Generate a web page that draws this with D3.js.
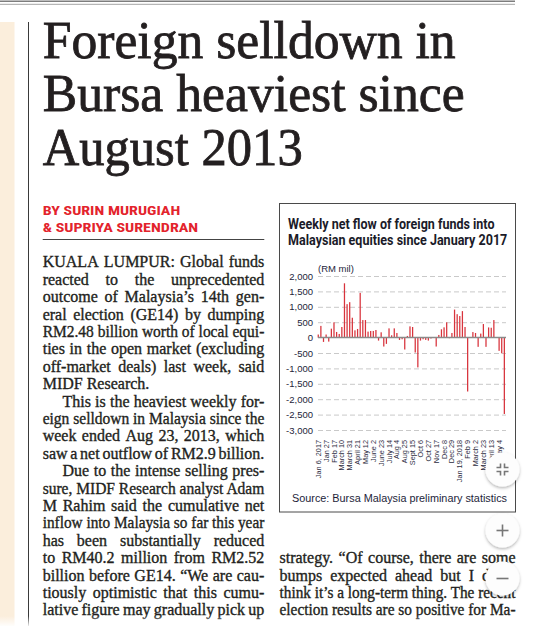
<!DOCTYPE html>
<html>
<head>
<meta charset="utf-8">
<script src="https://cdn.jsdelivr.net/npm/d3@7"></script>
<style>
  html, body { margin: 0; padding: 0; background: #fff; overflow: hidden; }
  svg { display: block; }
  .body-text { font-family: "Liberation Serif", "Times New Roman", serif; font-size: 16px; fill: #231f20; stroke: #231f20; stroke-width: 0.35; }
</style>
</head>
<body>
<svg id="page" width="536" height="626"></svg>
<script>
// ---- chart data ----
const firstWeek = new Date(2017, 0, 6);   // week ended Jan 6, 2017
const netFlow = [
  100, 380, -140, 100, -130, 290, 495, 183, 118, 344,
  1763, 1086, 1150, 645, 236, 280, 1452, 570, 570, 194,
  215, 215, 247, -97, 172, -290, -204, 300, 75, 300,
  150, -75, -54, -387, 54, 365, 344, -484, -968, -97,
  -54, -75, -97, -30, 10, -290, 86, 270, 333, 495,
  -20, 150, 910, 760, 700, 860, 344, -1750, 10, 180,
  150, -300, 130, 440, -300, 330, 320, 570, 10, -430,
  -510, -2480
];
const tickLabels = [
  "Jan 6, 2017", "Jan 27", "Feb 17", "March 10", "March 31", "April 21",
  "May 12", "June 2", "June 23", "July 14", "Aug 4", "Aug 25",
  "Sept 15", "Oct 6", "Oct 27", "Nov 17", "Dec 8", "Dec 29",
  "Jan 19, 2018", "Feb 9", "March 2", "March 23", "April 13", "May 4"
];
const yTicks = [2000, 1500, 1000, 500, 0, -500, -1000, -1500, -2000, -2500, -3000];

// ---- article text ----
const headline = ["Foreign selldown in", "Bursa heaviest since", "August 2013"];
const byline = ["BY SURIN MURUGIAH", "& SUPRIYA SURENDRAN"];
const chartTitle = ["Weekly net flow of foreign funds into", "Malaysian equities since January 2017"];
// [line, justified, indented]
const leftCol = [
  ["KUALA LUMPUR: Global funds", 1, 0],
  ["reacted to the unprecedented", 1, 0],
  ["outcome of Malaysia’s 14th gen-", 1, 0],
  ["eral election (GE14) by dumping", 1, 0],
  ["RM2.48 billion worth of local equi-", 1, 0],
  ["ties in the open market (excluding", 1, 0],
  ["off-market deals) last week, said", 1, 0],
  ["MIDF Research.", 0, 0],
  ["This is the heaviest weekly for-", 1, 1],
  ["eign selldown in Malaysia since the", 1, 0],
  ["week ended Aug 23, 2013, which", 1, 0],
  ["saw a net outflow of RM2.9 billion.", 1, 0],
  ["Due to the intense selling pres-", 1, 1],
  ["sure, MIDF Research analyst Adam", 1, 0],
  ["M Rahim said the cumulative net", 1, 0],
  ["inflow into Malaysia so far this year", 1, 0],
  ["has been substantially reduced", 1, 0],
  ["to RM40.2 million from RM2.52", 1, 0],
  ["billion before GE14. “We are cau-", 1, 0],
  ["tiously optimistic that this cumu-", 1, 0],
  ["lative figure may gradually pick up", 1, 0]
];
const rightCol = [
  "strategy. “Of course, there are some",
  "bumps expected ahead but I don’t",
  "think it’s a long-term thing. The recent",
  "election results are so positive for Ma-"
];

const svg = d3.select("#page");

// ---- page furniture ----
svg.append("rect").attr("x", 0).attr("y", 22).attr("width", 14.5).attr("height", 604).attr("fill", "#fbeedc");
svg.append("line").attr("x1", 0).attr("x2", 515).attr("y1", 1.2).attr("y2", 1.2).attr("stroke", "#7d7d7d").attr("stroke-width", 1.6);
svg.append("line").attr("x1", 0).attr("x2", 515).attr("y1", 4.3).attr("y2", 4.3).attr("stroke", "#9a9a9a").attr("stroke-width", 0.9);
svg.append("line").attr("x1", 28.5).attr("x2", 28.5).attr("y1", 22).attr("y2", 626).attr("stroke", "#3a3a3a").attr("stroke-width", 1);

// headline
const hlWidths = [413, 422, 260];
const hlBase = [58, 111.3, 164.5];
headline.forEach((t, i) => {
  svg.append("text")
    .attr("x", 42.7).attr("y", hlBase[i])
    .attr("textLength", hlWidths[i]).attr("lengthAdjust", "spacingAndGlyphs")
    .style("font-family", "'Liberation Serif', 'Times New Roman', serif")
    .style("font-size", "52px")
    .style("fill", "#231f20").style("stroke", "#231f20").style("stroke-width", 0.8)
    .text(t);
});

// byline
const byWidths = [137.5, 155.5];
byline.forEach((t, i) => {
  svg.append("text")
    .attr("x", 42.7).attr("y", 215 + i * 16.7)
    .attr("textLength", byWidths[i]).attr("lengthAdjust", "spacingAndGlyphs")
    .style("font-family", "'Liberation Sans Narrow', 'Roboto Condensed', Roboto, sans-serif")
    .style("font-weight", "bold").style("font-size", "13.5px")
    .style("fill", "#e3232c")
    .text(t);
});
svg.append("line").attr("x1", 42.7).attr("x2", 264.3).attr("y1", 239.5).attr("y2", 239.5).attr("stroke", "#444").attr("stroke-width", 1);

// justified body text
function setLine(g, str, x0, y, width, justify) {
  const t = g.append("text").attr("class", "body-text").attr("x", x0).attr("y", y).text(str);
  const natural = t.node().getComputedTextLength();
  const words = str.split(" ");
  if (!justify) {
    if (natural > width) t.attr("textLength", width).attr("lengthAdjust", "spacingAndGlyphs");
    return;
  }
  const probe = g.append("text").attr("class", "body-text");
  const ws = words.map(w => { probe.text(w); return probe.node().getComputedTextLength(); });
  probe.remove();
  const gap = (width - d3.sum(ws)) / (words.length - 1);
  if (gap < 2.6) {
    t.attr("textLength", width).attr("lengthAdjust", "spacingAndGlyphs");
    return;
  }
  t.remove();
  let x = x0;
  words.forEach((w, i) => {
    g.append("text").attr("class", "body-text").attr("x", x).attr("y", y).text(w);
    x += ws[i] + gap;
  });
}

const textG = svg.append("g");
const lineH = 17.4, firstBase = 267.3;
leftCol.forEach(([t, j, ind], i) => {
  const x0 = ind ? 62.5 : 42.7;
  setLine(textG, t, x0, firstBase + i * lineH, 264.3 - x0, j);
});
rightCol.forEach((t, i) => {
  setLine(textG, t, 279.5, firstBase + (17 + i) * lineH, 236, true);
});

// ---- chart box ----
svg.append("rect").attr("x", 279.5).attr("y", 203.5).attr("width", 236).attr("height", 308.5)
  .attr("fill", "#fff").attr("stroke", "#4a4a4a").attr("stroke-width", 1);

const titleWidths = [206.5, 219.3];
chartTitle.forEach((t, i) => {
  svg.append("text")
    .attr("x", 288).attr("y", 228.5 + i * 16)
    .attr("textLength", titleWidths[i]).attr("lengthAdjust", "spacingAndGlyphs")
    .style("font-family", "Roboto, 'Liberation Sans', sans-serif")
    .style("font-weight", "bold").style("font-size", "14px")
    .style("fill", "#1b1b29")
    .text(t);
});

const chart = svg.append("g").style("font-family", "'Liberation Sans', Arial, sans-serif");

const weeks = netFlow.map((_, i) => d3.timeWeek.offset(firstWeek, i));
const x = d3.scaleBand().domain(weeks).range([317, 505.6]).paddingInner(0.52).paddingOuter(0.24);
const y = d3.scaleLinear().domain([-3000, 2000]).range([430, 276]);

const fmt = d => d3.format(",")(d).replace("−", "-");

// grid lines
const grid = chart.append("g").attr("transform", "translate(318,0)")
  .call(d3.axisLeft(y).tickValues(yTicks.filter(v => v !== 0)).tickSize(-188).tickFormat(""));
grid.select(".domain").remove();
grid.selectAll("line").attr("stroke", "#c9c9c9").attr("stroke-dasharray", "5,3").attr("stroke-width", 1);

// y labels
const gy = chart.append("g").attr("transform", "translate(318,0)")
  .call(d3.axisLeft(y).tickValues(yTicks).tickSize(0).tickPadding(5).tickFormat(fmt));
gy.select(".domain").remove();
gy.selectAll("text").style("font-size", "9.5px").style("font-family", "'Liberation Sans', Arial, sans-serif").attr("fill", "#1d1e3a");

chart.append("text").attr("x", 318).attr("y", 271.5)
  .style("font-size", "9.5px").attr("fill", "#1d1e3a").text("(RM mil)");

// bars
chart.append("g").selectAll("rect").data(netFlow).join("rect")
  .attr("x", (d, i) => x(weeks[i]))
  .attr("width", x.bandwidth())
  .attr("y", d => y(Math.max(0, d)))
  .attr("height", d => Math.abs(y(d) - y(0)))
  .attr("fill", "#d8333c");

// zero line
chart.append("line").attr("x1", 318).attr("x2", 506).attr("y1", y(0)).attr("y2", y(0))
  .attr("stroke", "#8a8a8a").attr("stroke-width", 1.5);

// x labels
const tickWeeks = tickLabels.map((_, i) => weeks[i * 3]);
const gx = chart.append("g").attr("transform", "translate(0,440)")
  .call(d3.axisBottom(x).tickValues(tickWeeks).tickSize(0).tickPadding(0).tickFormat((d, i) => tickLabels[i]));
gx.select(".domain").remove();
gx.selectAll("text")
  .attr("transform", "rotate(-90)")
  .attr("text-anchor", "end")
  .attr("x", 0).attr("y", 0).attr("dy", "0.35em")
  .style("font-size", "7.3px").style("font-family", "'Liberation Sans', Arial, sans-serif")
  .attr("fill", "#2b2b40");

chart.append("text").attr("x", 292).attr("y", 501.5)
  .attr("textLength", 215).attr("lengthAdjust", "spacingAndGlyphs")
  .style("font-size", "10px").attr("fill", "#1d1e3a")
  .text("Source: Bursa Malaysia preliminary statistics");

// ---- bottom fade ----
const defs = svg.append("defs");
const grad = defs.append("linearGradient").attr("id", "fade").attr("x1", 0).attr("x2", 0).attr("y1", 0).attr("y2", 1);
grad.append("stop").attr("offset", 0).attr("stop-color", "#fff").attr("stop-opacity", 0);
grad.append("stop").attr("offset", 1).attr("stop-color", "#fff").attr("stop-opacity", 0.9);
svg.append("rect").attr("x", 0).attr("y", 616).attr("width", 536).attr("height", 10).attr("fill", "url(#fade)");

// ---- zoom buttons ----
const shadow = defs.append("filter").attr("id", "shadow").attr("x", "-50%").attr("y", "-50%").attr("width", "200%").attr("height", "200%");
shadow.append("feDropShadow").attr("dx", 0).attr("dy", 1.5).attr("stdDeviation", 1.6).attr("flood-color", "#000").attr("flood-opacity", 0.3);

const buttons = [{ cx: 502.5, cy: 469.5, icon: "exit" }, { cx: 502.5, cy: 530.5, icon: "plus" }, { cx: 502.5, cy: 578.5, icon: "minus" }];
buttons.forEach(b => {
  const g = svg.append("g").attr("transform", `translate(${b.cx},${b.cy})`);
  g.append("circle").attr("r", 17).attr("fill", "#fdfdfd").attr("filter", "url(#shadow)");
  const ico = g.append("g").attr("stroke", "#777").attr("stroke-width", 1.6).attr("fill", "none");
  if (b.icon === "plus") {
    ico.append("line").attr("x1", -6).attr("x2", 6);
    ico.append("line").attr("y1", -6).attr("y2", 6);
  } else if (b.icon === "minus") {
    ico.append("line").attr("x1", -6).attr("x2", 6);
  } else {
    [[-1, -1], [1, -1], [-1, 1], [1, 1]].forEach(([sx, sy]) => {
      ico.append("path").attr("d", `M${sx * 6},${sy * 2}H${sx * 2}V${sy * 6}`);
    });
  }
});
</script>
</body>
</html>
